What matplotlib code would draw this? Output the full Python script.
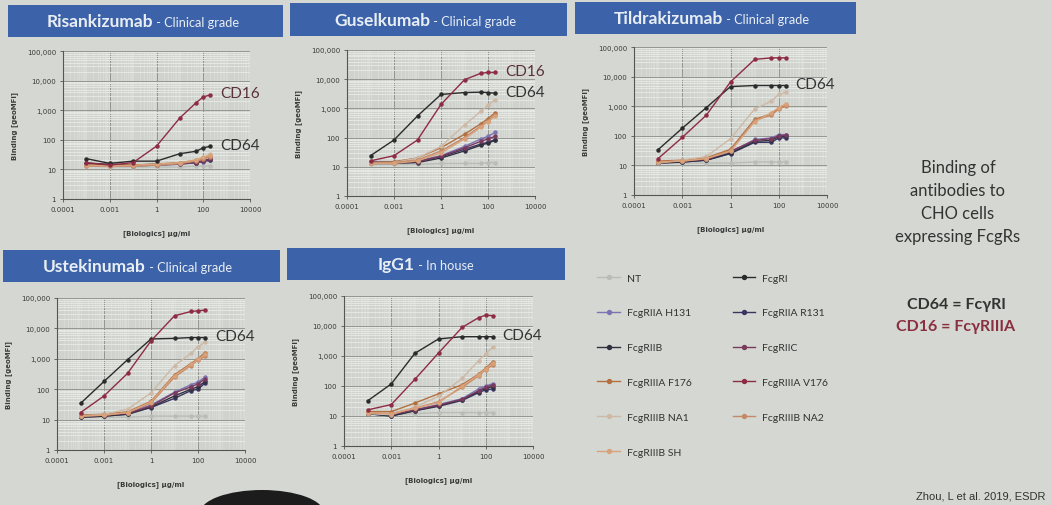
import matplotlib
matplotlib.use('Agg')
import matplotlib.pyplot as plt
from matplotlib.patches import Rectangle, Ellipse
from matplotlib.ticker import FixedLocator, FixedFormatter, LogLocator, NullFormatter

# concentration series (ug/ml) shared by all panels
conc = [0.001, 0.01, 0.1, 1, 10, 50, 100, 200]

receptors = ['NT', 'FcgRI', 'FcgRIIA H131', 'FcgRIIA R131', 'FcgRIIB', 'FcgRIIC',
             'FcgRIIIA F176', 'FcgRIIIA V176', 'FcgRIIIB NA1', 'FcgRIIIB NA2', 'FcgRIIIB SH']

# geoMFI per receptor (rows in receptor order)
risankizumab = [
    [13, 12, 12, 12, 12, 13, 13, 13],
    [23, 16, 19, 19, 34, 41, 54, 60],
    [14, 13, 13, 14, 15, 17, 18, 20],
    [15, 14, 14, 14, 16, 18, 20, 22],
    [16, 15, 14, 15, 16, 17, 19, 21],
    [14, 13, 13, 14, 15, 17, 19, 22],
    [14, 14, 14, 15, 17, 20, 24, 28],
    [17, 14, 17, 61, 550, 1800, 2800, 3300],
    [13, 13, 13, 14, 16, 20, 25, 32],
    [13, 13, 13, 14, 16, 19, 22, 27],
    [14, 13, 14, 15, 17, 21, 26, 30],
]
guselkumab = [
    [12, 12, 12, 13, 13, 13, 14, 14],
    [24, 83, 550, 3000, 3500, 3600, 3500, 3300],
    [15, 15, 16, 24, 50, 90, 110, 150],
    [14, 14, 15, 22, 40, 60, 70, 85],
    [13, 13, 14, 20, 35, 55, 65, 80],
    [14, 14, 15, 23, 45, 75, 90, 110],
    [14, 15, 20, 45, 130, 300, 450, 700],
    [16, 24, 83, 1370, 9600, 16000, 17000, 17000],
    [13, 14, 20, 50, 270, 800, 1300, 2000],
    [13, 14, 17, 35, 100, 250, 380, 600],
    [13, 13, 16, 30, 90, 230, 350, 550],
]
tildrakizumab = [
    [12, 12, 12, 12, 13, 13, 13, 13],
    [34, 180, 900, 4600, 5000, 5000, 5000, 5000],
    [13, 14, 16, 28, 75, 85, 110, 110],
    [12, 13, 15, 25, 60, 60, 85, 85],
    [12, 13, 15, 26, 65, 70, 95, 95],
    [13, 14, 16, 30, 70, 80, 100, 105],
    [14, 15, 18, 35, 360, 550, 850, 1100],
    [17, 88, 500, 6600, 38000, 43000, 43000, 43000],
    [12, 15, 20, 80, 800, 1500, 2500, 3000],
    [13, 14, 17, 32, 330, 500, 800, 1000],
    [13, 14, 17, 30, 300, 600, 900, 1200],
]
ustekinumab = [
    [12, 12, 12, 13, 13, 13, 13, 13],
    [34, 180, 930, 4500, 4700, 5000, 5000, 5000],
    [13, 14, 17, 30, 80, 140, 170, 250],
    [12, 13, 15, 25, 50, 90, 100, 160],
    [12, 13, 15, 26, 60, 100, 120, 180],
    [13, 14, 16, 28, 75, 120, 150, 220],
    [14, 15, 18, 40, 300, 700, 1000, 1600],
    [17, 60, 330, 3900, 26000, 36000, 38000, 40000],
    [13, 15, 22, 75, 600, 1500, 2500, 3500],
    [13, 14, 17, 35, 250, 600, 900, 1200],
    [13, 14, 17, 38, 280, 650, 950, 1400],
]
igg1 = [
    [12, 11, 12, 13, 13, 13, 13, 13],
    [32, 117, 1230, 3700, 4400, 4400, 4400, 4400],
    [13, 11, 16, 24, 38, 80, 100, 120],
    [12, 10, 15, 21, 33, 60, 75, 80],
    [12, 10, 15, 22, 35, 65, 85, 95],
    [13, 11, 16, 23, 36, 70, 90, 110],
    [14, 14, 27, 55, 110, 250, 400, 650],
    [16, 24, 166, 1260, 9000, 19000, 23000, 22000],
    [12, 11, 20, 45, 180, 700, 1200, 2000],
    [13, 12, 18, 30, 90, 220, 350, 500],
    [13, 12, 18, 28, 100, 240, 380, 580],
]

xtick_vals = [1e-4, 1e-2, 1, 1e2, 1e4]
xtick_labels = ['0.0001', '0.001', '1', '100', '10000']
ytick_vals = [1, 10, 100, 1e3, 1e4, 1e5]
ytick_labels = ['1', '10', '100', '1,000', '10,000', '100,000']

colors = ['#b9bcb7', '#2b2b2b', '#7b74b2', '#3a3560', '#2f3140', '#7a3a5e',
          '#b3703f', '#8e2c44', '#cdb9a6', '#c48a68', '#d9a27a']

W, H = 1051, 506
BG = '#d5d8d2'
BAR = '#3c62a9'


def frect(x0, y0, x1, y1):
    # pixel box (top-left origin) -> figure rect
    return [x0 / W, 1 - y1 / H, (x1 - x0) / W, (y1 - y0) / H]


fig = plt.figure(figsize=(W / 100, H / 100), dpi=100, facecolor=BG)

panels = [
    ('Risankizumab', ' - Clinical grade', risankizumab, (8, 6, 283, 38), 153, (63, 52, 250, 200), ['CD16', 'CD64']),
    ('Guselkumab', ' - Clinical grade', guselkumab, (290, 4, 567, 37), 430, (347, 51, 535, 197), ['CD16', 'CD64']),
    ('Tildrakizumab', ' - Clinical grade', tildrakizumab, (575, 3, 856, 35), 723, (634, 48, 827, 196), ['CD64']),
    ('Ustekinumab', ' - Clinical grade', ustekinumab, (3, 251, 280, 283), 146, (57, 299, 245, 451), ['CD64']),
    ('IgG1', ' - In house', igg1, (287, 249, 565, 281), 415, (344, 297, 533, 447), ['CD64']),
]

handles = []
for name, sub, data, bar, split, box, tags in panels:
    fig.patches.append(Rectangle((bar[0] / W, 1 - bar[3] / H), (bar[2] - bar[0]) / W,
                                 (bar[3] - bar[1]) / H, transform=fig.transFigure,
                                 facecolor=BAR, edgecolor='none', zorder=0))
    ymid = 1 - (bar[1] + bar[3]) / 2 / H
    fig.text(split / W, ymid, name, ha='right', va='center', color='#e8eef4',
             fontsize=12.5, fontfamily='Lato', fontweight='bold')
    fig.text(split / W, ymid - 0.002, sub, ha='left', va='center', color='#e8eef4',
             fontsize=9.2, fontfamily='Lato')

    ax = fig.add_axes(frect(*box))
    ax.set_facecolor('#cfd2cd')
    lines = []
    for i, row in enumerate(data):
        ln, = ax.plot(conc, row, color=colors[i], lw=1.0, marker='o', ms=2.2,
                      label=receptors[i], zorder=3 + (i in (1, 7)))
        lines.append(ln)
    if not handles:
        handles = lines
    ax.set_xscale('log')
    ax.set_yscale('log')
    ax.set_xlim(1e-4, 1e4)
    ax.set_ylim(1, 1e5)
    ax.xaxis.set_major_locator(FixedLocator(xtick_vals))
    ax.xaxis.set_major_formatter(FixedFormatter(xtick_labels))
    ax.yaxis.set_major_locator(FixedLocator(ytick_vals))
    ax.yaxis.set_major_formatter(FixedFormatter(ytick_labels))
    ax.xaxis.set_minor_locator(LogLocator(base=10, subs=range(1, 10), numticks=50))
    ax.yaxis.set_minor_locator(LogLocator(base=10, subs=range(1, 10), numticks=50))
    ax.xaxis.set_minor_formatter(NullFormatter())
    ax.yaxis.set_minor_formatter(NullFormatter())
    ax.xaxis.grid(True, which='minor', color='#dcdeda', lw=0.5)
    ax.yaxis.grid(True, which='minor', color='#e9ebe7', lw=0.6)
    ax.grid(True, which='major', color='#939691', lw=0.7)
    ax.set_axisbelow(True)
    for s in ('top', 'right'):
        ax.spines[s].set_visible(False)
    for s in ('left', 'bottom'):
        ax.spines[s].set_color('#555555')
        ax.spines[s].set_linewidth(0.8)
    ax.tick_params(which='major', length=2, width=0.6, color='#555555',
                   labelsize=5, labelcolor='#3a3a3a', pad=3)
    ax.tick_params(which='minor', length=0)
    ax.set_ylabel('Binding [geoMFI]', fontsize=5, fontweight='bold', color='#3a3a3a', labelpad=6)
    ax.set_xlabel('[Biologics] \u00b5g/ml', fontsize=5, fontweight='bold', color='#3a3a3a', labelpad=12)

    for tag in tags:
        row = data[7] if tag == 'CD16' else data[1]
        ax.annotate(tag, xy=(conc[-1], row[-1]), xytext=(7, 1), textcoords='offset points',
                    ha='left', va='center', fontsize=11, fontfamily='Lato',
                    color='#5a3238' if tag == 'CD16' else '#333333', annotation_clip=False)

# legend (row-major order as on the slide)
order = [0, 2, 4, 6, 8, 10, 1, 3, 5, 7, 9]
leg = fig.legend([handles[i] for i in order], [receptors[i] for i in order],
                 loc='upper left', bbox_to_anchor=(588 / W, 1 - 265 / H), ncol=2,
                 frameon=False, labelspacing=2.45, handlelength=2.2,
                 handletextpad=0.6, columnspacing=3.95, markerscale=1.3,
                 prop={'family': 'Lato', 'size': 7.5})
for t in leg.get_texts():
    t.set_color('#333333')

# right-hand notes
for k, line in enumerate(['Binding of', 'antibodies to', 'CHO cells', 'expressing FcgRs']):
    fig.text(958 / W, 1 - (168 + 23 * k) / H, line, ha='center', va='center',
             fontsize=12, fontfamily='Lato', color='#333333')
fig.text(956 / W, 1 - 305 / H, 'CD64 = Fc\u03b3RI', ha='center', va='center',
         fontsize=11.5, fontfamily='Lato', fontweight='bold', color='#333333')
fig.text(956 / W, 1 - 327 / H, 'CD16 = Fc\u03b3RIIIA', ha='center', va='center',
         fontsize=11.5, fontfamily='Lato', fontweight='bold', color='#8a2f40')

fig.text(1045 / W, 1 - 497 / H, 'Zhou, L et al. 2019, ESDR', ha='right', va='center',
         fontsize=8, fontfamily='Liberation Sans', color='#333333')

# head of an audience member at the bottom edge of the photo
fig.patches.append(Ellipse((262 / W, 1 - 514 / H), 124 / W, 46 / H, transform=fig.transFigure,
                           facecolor='#1c1c1c', edgecolor='none'))

fig.savefig('out.png', dpi=100, facecolor=BG)
